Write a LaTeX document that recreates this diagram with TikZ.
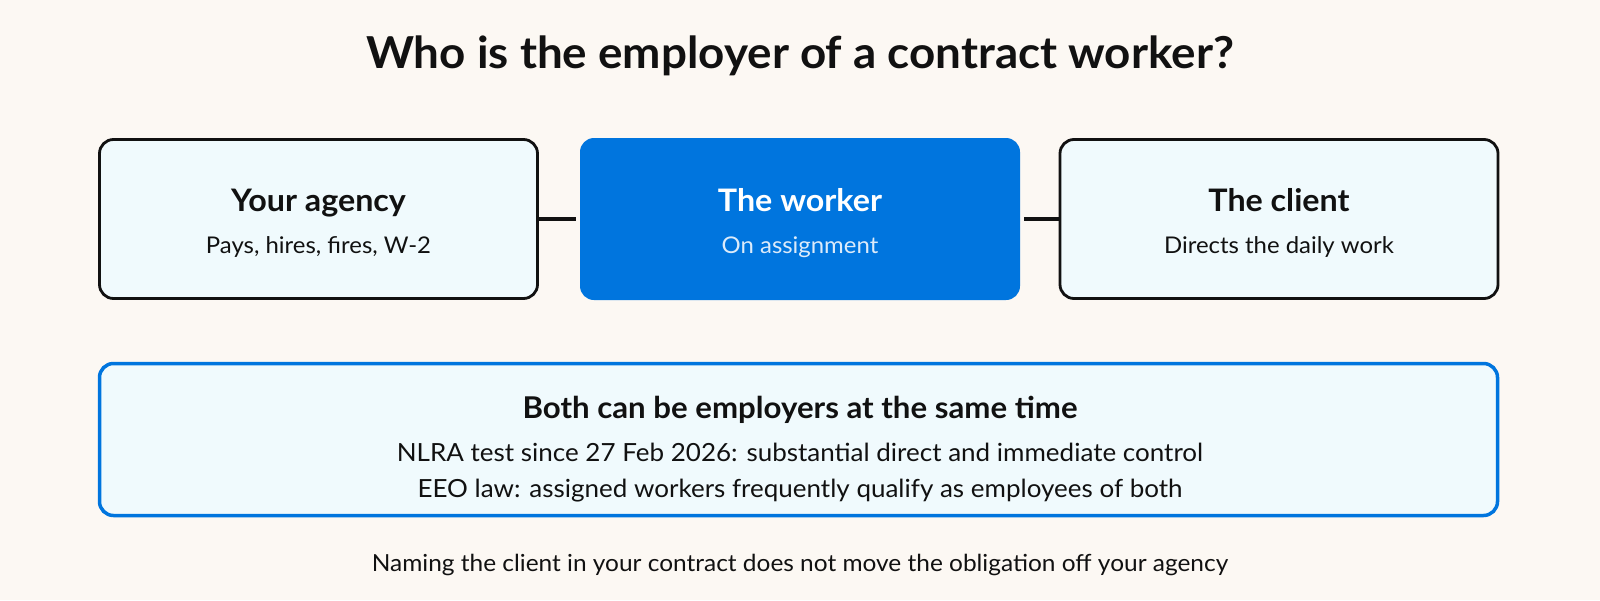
\documentclass[tikz,border=0pt]{standalone}
\usepackage{fontspec}
\setmainfont{Lato}[FakeStretch=1.04]
\definecolor{bgc}{HTML}{FCF8F3}
\definecolor{boxfill}{HTML}{F0FAFD}
\definecolor{bluec}{HTML}{0075DE}
\definecolor{ink}{HTML}{111111}
\definecolor{lightw}{HTML}{DCEBFA}
\begin{document}
\begin{tikzpicture}[x=1pt,y=-1pt,
  card/.style={rectangle,rounded corners=14pt,draw=ink,line width=2.8pt,fill=boxfill,minimum width=438pt,minimum height=159pt,inner sep=0pt},
  bluecard/.style={rectangle,rounded corners=14pt,fill=bluec,minimum width=440pt,minimum height=162pt,inner sep=0pt},
  head/.style={anchor=base,font=\fontsize{31}{35}\selectfont\bfseries,text=ink,inner sep=0pt},
  sub/.style={anchor=base,font=\fontsize{23}{27}\selectfont,text=ink,inner sep=0pt},
  link/.style={draw=ink,line width=4pt}
]
\fill[bgc] (0,0) rectangle (1600,600);
\useasboundingbox (0,0) rectangle (1600,600);
\node[anchor=base,font=\fontsize{44}{50}\selectfont\bfseries,text=ink,inner sep=0pt] (title) at (800,68) {Who is the employer of a contract worker?};
\node[card] (agency) at (318.5,219) {};
\node[bluecard] (worker) at (800,219) {};
\node[card] (client) at (1279,219) {};
\draw[link,shorten >=4pt] (agency.east) -- (worker.west);
\draw[link,shorten <=4pt] (worker.east) -- (client.west);
\node[head] (agencyh) at (318.5,211) {Your agency};
\node[sub] (agencys) at (318.5,253) {Pays, hires, fires, W-2};
\node[head,text=white] (workerh) at (800,211) {The worker};
\node[sub,text=lightw] (workers) at (800,253) {On assignment};
\node[head] (clienth) at (1279,211) {The client};
\node[sub] (clients) at (1279,253) {Directs the daily work};
\node[rectangle,rounded corners=14pt,draw=bluec,line width=3.5pt,fill=boxfill,minimum width=1398pt,minimum height=152pt,inner sep=0pt] (both) at (798.5,439.5) {};
\node[anchor=base,font=\fontsize{30}{34}\selectfont\bfseries,text=ink,inner sep=0pt] (bothh) at (800,418) {Both can be employers at the same time};
\node[anchor=base,font=\fontsize{25}{29}\selectfont,text=ink,inner sep=0pt] (l1) at (800,461) {NLRA test since 27 Feb 2026: substantial direct and immediate control};
\node[anchor=base,font=\fontsize{25}{29}\selectfont,text=ink,inner sep=0pt] (l2) at (800,497) {EEO law: assigned workers frequently qualify as employees of both};
\node[anchor=base,font=\fontsize{23.5}{27}\selectfont,text=ink,inner sep=0pt] (foot) at (800,571) {Naming the client in your contract does not move the obligation off your agency};
\end{tikzpicture}
\end{document}
